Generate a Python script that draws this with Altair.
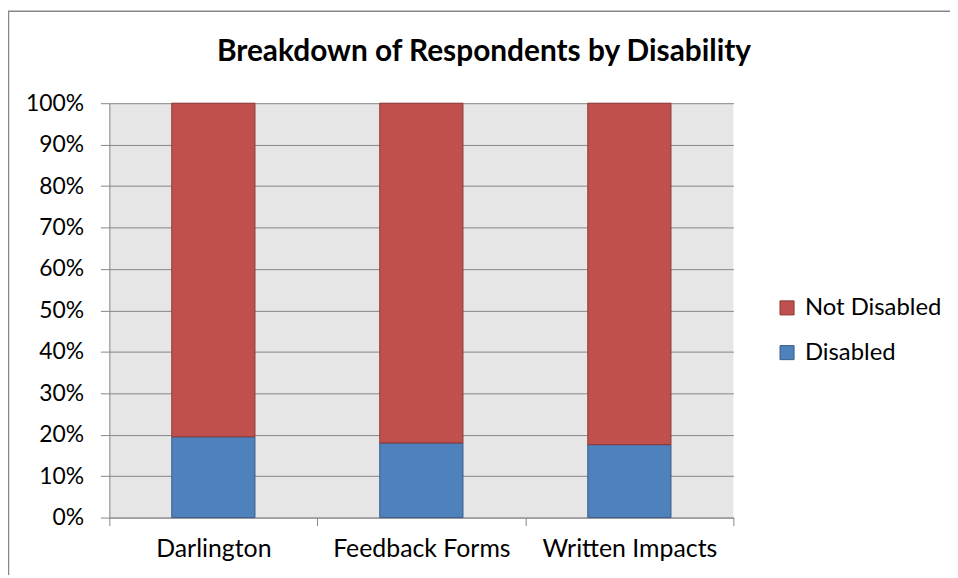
import altair as alt
import pandas as pd

categories = ["Darlington", "Feedback Forms", "Written Impacts"]
disabled = [0.195, 0.180, 0.176]
not_disabled = [0.805, 0.820, 0.824]
series = ["Not Disabled", "Disabled"]
fill_colors = ["#C0504D", "#4F81BD"]
stroke_colors = ["#8C3836", "#385D8A"]
y_ticks = [i / 10 for i in range(11)]

rows = []
for c, d, n in zip(categories, disabled, not_disabled):
    rows.append({"category": c, "series": "Disabled", "value": d, "ord": 0})
    rows.append({"category": c, "series": "Not Disabled", "value": n, "ord": 1})
df = pd.DataFrame(rows)

FONT = "Lato"

bars = (
    alt.Chart(df)
    .mark_bar(width={"band": 0.4}, strokeWidth=1)
    .encode(
        x=alt.X(
            "category:N",
            sort=categories,
            title=None,
            scale=alt.Scale(paddingInner=0, paddingOuter=0),
            axis=alt.Axis(
                labelAngle=0,
                tickBand="extent",
                tickSize=8,
                tickColor="#868686",
                domainColor="#868686",
                labelPadding=11,
                labelFontSize=25,
                labelFont=FONT,
                labelColor="#000000",
                grid=False,
            ),
        ),
        y=alt.Y(
            "value:Q",
            stack="zero",
            title=None,
            scale=alt.Scale(domain=[0, 1], nice=False),
            axis=alt.Axis(
                values=y_ticks,
                format=".0%",
                tickSize=9,
                tickColor="#868686",
                domainColor="#868686",
                gridColor="#868686",
                labelPadding=17,
                labelFontSize=23,
                labelFont=FONT,
                labelColor="#000000",
            ),
        ),
        color=alt.Color(
            "series:N",
            scale=alt.Scale(domain=series, range=fill_colors),
            legend=alt.Legend(
                title=None,
                orient="none",
                legendX=670,
                legendY=194,
                symbolType="square",
                symbolSize=200,
                symbolStrokeWidth=1,
                symbolOpacity=1,
                labelFontSize=24,
                labelFont=FONT,
                labelColor="#000000",
                rowPadding=21,
                labelOffset=6,
            ),
        ),
        stroke=alt.Stroke(
            "series:N",
            scale=alt.Scale(domain=series, range=stroke_colors),
            legend=None,
        ),
        order=alt.Order("ord:Q", sort="ascending"),
    )
)

frame = (
    alt.Chart(pd.DataFrame({"f": [0]}))
    .mark_rect(filled=False, stroke="#878787", strokeWidth=1.5)
    .encode(
        x=alt.value(-101.5),
        x2=alt.value(870),
        y=alt.value(-92.5),
        y2=alt.value(500),
    )
)

chart = (
    alt.layer(frame, bars)
    .properties(
        width=628,
        height=417,
        title=alt.TitleParams(
            "Breakdown of Respondents by Disability",
            font=FONT,
            fontSize=30,
            fontWeight="bold",
            color="#000000",
            anchor="middle",
            dx=63,
            offset=-57,
        ),
        autosize=alt.AutoSizeParams(type="none"),
        padding={"left": 102, "top": 94, "right": 218, "bottom": 56},
    )
    .configure_view(fill="#E6E6E6", stroke=None)
)

chart.save("out.html", embed_options={"renderer": "svg", "actions": False})
